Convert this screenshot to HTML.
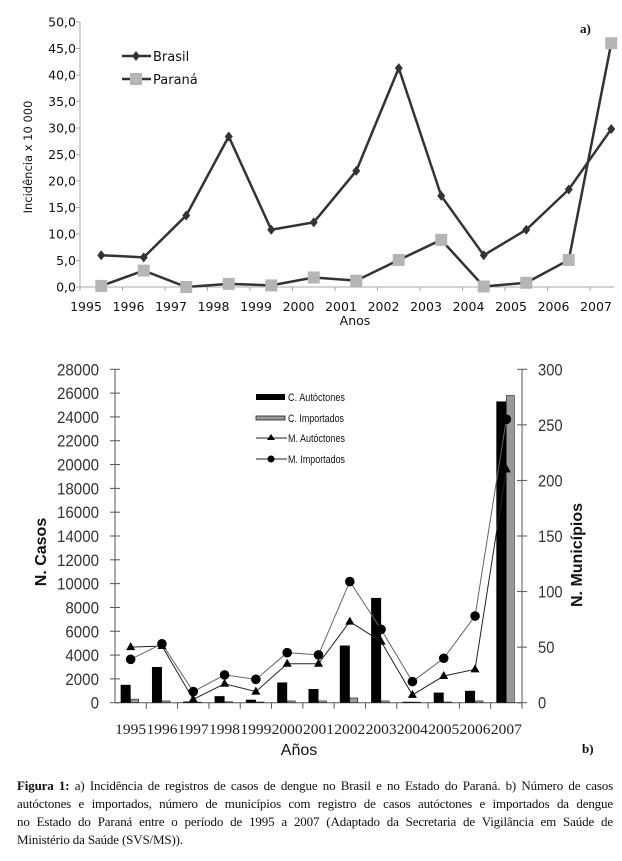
<!DOCTYPE html>
<html><head><meta charset="utf-8"><style>
body{margin:0;background:#fff;width:622px;height:861px;overflow:hidden;position:relative}
svg{position:absolute;left:0;top:0}
.cap{position:absolute;left:17px;width:596px;top:777px;font-family:"Liberation Serif",serif;font-size:13px;line-height:18px;color:#111;letter-spacing:-0.15px}
.cap div{text-align:justify;text-align-last:justify;white-space:nowrap}
.cap div.last{text-align-last:left}
</style></head><body>
<svg id="chart" width="622" height="861" xmlns="http://www.w3.org/2000/svg"></svg>
<div class="cap">
<div><b>Figura 1:</b> a) Incidência de registros de casos de dengue no Brasil e no Estado do Paraná. b) Número de casos</div>
<div>autóctones e importados, número de municípios com registro de casos autóctones e importados da dengue</div>
<div>no Estado do Paraná entre o período de 1995 a 2007 (Adaptado da Secretaria de Vigilância em Saúde de</div>
<div class="last">Ministério da Saúde (SVS/MS)).</div>
</div>
<script>
const years = ["1995","1996","1997","1998","1999","2000","2001","2002","2003","2004","2005","2006","2007"];
const brasil = [6.0,5.6,13.5,28.4,10.8,12.2,21.9,41.3,17.2,6.0,10.8,18.4,29.8];
const parana = [0.2,3.1,0.0,0.6,0.3,1.8,1.2,5.1,8.9,0.1,0.8,5.1,46.0];
const aTicks = ["0,0","5,0","10,0","15,0","20,0","25,0","30,0","35,0","40,0","45,0","50,0"];
const cAuto = [1500,3000,100,550,250,1700,1150,4800,8800,80,850,1000,25300];
const cImp = [300,150,50,80,60,150,150,400,150,50,60,150,25800];
const mAuto = [50,51,3,17,10,35,35,73,55,7,24,30,210];
const mImp = [39,53,10,25,21,45,43,109,66,19,40,78,255];
const leftTicks = [0,2000,4000,6000,8000,10000,12000,14000,16000,18000,20000,22000,24000,26000,28000];
const rightTicks = [0,50,100,150,200,250,300];

const svg=document.getElementById('chart');
const NS='http://www.w3.org/2000/svg';
function mk(tag,attrs,parent,name,txt){const e=document.createElementNS(NS,tag);for(const k in attrs)e.setAttribute(k,attrs[k]);


if(txt!==undefined)e.textContent=txt;(parent||svg).appendChild(e);return e;}

// ---- Chart a ----
const ga=mk('g',{},svg,'chart-a');
const aX0=80,aStep=42.5,aY0=287,aY1=22;
const ax=i=>aX0+aStep*(i+0.5);
const ay=v=>aY0-(aY0-aY1)*v/50;
const af='"DejaVu Sans","Liberation Sans",sans-serif';
mk('line',{x1:aX0,y1:aY1,x2:aX0,y2:aY0,stroke:'#aaa','stroke-width':1},ga,'y-axis-a');
mk('line',{x1:aX0,y1:aY0,x2:614,y2:aY0,stroke:'#aaa','stroke-width':1},ga,'x-axis-a');
aTicks.forEach((t,i)=>{const y=ay(i*5);
mk('line',{x1:aX0-4,y1:y,x2:aX0,y2:y,stroke:'#aaa'},ga,'y-tick-a');
mk('text',{x:76,y:y+4.5,'text-anchor':'end','font-family':af,'font-size':12.5,fill:'#111'},ga,'y-tick-label-a',t);});
years.forEach((yr,i)=>{const x=aX0+aStep*i;
mk('line',{x1:x,y1:aY0,x2:x,y2:aY0+4,stroke:'#aaa'},ga,'x-tick-a');
mk('text',{x:x+6,y:311,'text-anchor':'middle','font-family':af,'font-size':12.5,fill:'#111'},ga,'x-tick-label-a',yr);});
mk('text',{x:355,y:325,'text-anchor':'middle','font-family':af,'font-size':12.5,fill:'#111'},ga,'x-axis-title-a','Anos');
mk('text',{x:0,y:0,transform:'translate(32,157) rotate(-90)','text-anchor':'middle','font-family':af,'font-size':11.5,fill:'#111'},ga,'y-axis-title-a','Incidência x 10 000');
mk('text',{x:580,y:33,'font-family':'Liberation Serif, serif','font-size':13,'font-weight':'bold',fill:'#111'},ga,'panel-label-a','a)');
mk('polyline',{points:brasil.map((v,i)=>ax(i)+','+ay(v)).join(' '),fill:'none',stroke:'#333','stroke-width':2.5},ga,'line-brasil');
mk('polyline',{points:parana.map((v,i)=>ax(i)+','+ay(v)).join(' '),fill:'none',stroke:'#333','stroke-width':2.5},ga,'line-parana');
brasil.forEach((v,i)=>{const x=ax(i),y=ay(v);mk('polygon',{points:`${x},${y-5} ${x+4},${y} ${x},${y+5} ${x-4},${y}`,fill:'#333'},ga,'point-brasil');});
parana.forEach((v,i)=>{mk('rect',{x:ax(i)-6,y:ay(v)-6,width:12,height:12,fill:'#b5b5b5'},ga,'point-parana');});
mk('line',{x1:122,y1:56,x2:151,y2:56,stroke:'#333','stroke-width':2.5},ga,'legend-line-brasil');
mk('polygon',{points:'136,51 140,56 136,61 132,56',fill:'#333'},ga,'legend-marker-brasil');
mk('text',{x:153,y:61,'font-family':af,'font-size':13,fill:'#111'},ga,'legend-label-brasil','Brasil');
mk('line',{x1:122,y1:79,x2:151,y2:79,stroke:'#333','stroke-width':2.5},ga,'legend-line-parana');
mk('rect',{x:130,y:73,width:12,height:12,fill:'#b5b5b5'},ga,'legend-marker-parana');
mk('text',{x:153,y:84,'font-family':af,'font-size':13,fill:'#111'},ga,'legend-label-parana','Paraná');

// ---- Chart b ----
const gb=mk('g',{},svg,'chart-b');
const bX0=115,bX1=522,bY0=702.7,bY1=369.3,cw=(bX1-bX0)/13;
const bx=i=>bX0+cw*(i+0.5);
const byL=v=>bY0-(bY0-bY1)*v/28000;
const byR=v=>bY0-(bY0-bY1)*v/300;
const nf='"Liberation Sans",sans-serif';
mk('line',{x1:bX0,y1:bY1,x2:bX0,y2:bY0,stroke:'#555'},gb,'left-axis-b');
mk('line',{x1:bX1,y1:bY1,x2:bX1,y2:bY0,stroke:'#555'},gb,'right-axis-b');
mk('line',{x1:bX0,y1:bY0,x2:bX1,y2:bY0,stroke:'#555'},gb,'x-axis-b');
leftTicks.forEach(t=>{const y=byL(t);const s=String(t);
mk('line',{x1:bX0-5,y1:y,x2:bX0+5,y2:y,stroke:'#555'},gb,'left-tick');
mk('text',{x:99,y:y+6,'text-anchor':'end','font-family':nf,'font-size':17,fill:'#333',textLength:s.length*8.4,lengthAdjust:'spacingAndGlyphs'},gb,'left-tick-label',s);});
rightTicks.forEach(t=>{const y=byR(t);const s=String(t);
mk('line',{x1:bX1-5,y1:y,x2:bX1+5,y2:y,stroke:'#555'},gb,'right-tick');
mk('text',{x:538,y:y+6,'font-family':nf,'font-size':17,fill:'#333',textLength:s.length*8.2,lengthAdjust:'spacingAndGlyphs'},gb,'right-tick-label',s);});
years.forEach((yr,i)=>{const x=bX0+cw*(i+1);
mk('line',{x1:x,y1:bY0,x2:x,y2:bY0+6,stroke:'#555'},gb,'x-tick-b');
mk('text',{x:bx(i)-15.5,y:734,'font-family':'Liberation Serif, serif','font-size':15,fill:'#222',textLength:31,lengthAdjust:'spacingAndGlyphs'},gb,'x-tick-label-b',yr);});
mk('text',{x:299,y:755,'text-anchor':'middle','font-family':nf,'font-size':16,fill:'#111'},gb,'x-axis-title-b','Años');
mk('text',{x:0,y:0,transform:'translate(46,552) rotate(-90)','text-anchor':'middle','font-family':nf,'font-size':16,'font-weight':'bold',fill:'#111'},gb,'y-axis-title-left','N. Casos');
mk('text',{x:0,y:0,transform:'translate(582,555) rotate(-90)','text-anchor':'middle','font-family':nf,'font-size':16,'font-weight':'bold',fill:'#111'},gb,'y-axis-title-right','N. Municípios');
mk('text',{x:582,y:753,'font-family':'Liberation Serif, serif','font-size':13,'font-weight':'bold',fill:'#111'},gb,'panel-label-b','b)');
cAuto.forEach((v,i)=>{mk('rect',{x:bx(i)-10,y:byL(v),width:10,height:bY0-byL(v),fill:'#000'},gb,'bar-c-autoctones');});
cImp.forEach((v,i)=>{mk('rect',{x:bx(i),y:byL(v),width:8,height:bY0-byL(v),fill:'#999',stroke:'#222','stroke-width':0.6},gb,'bar-c-importados');});
mk('polyline',{points:mAuto.map((v,i)=>bx(i)+','+byR(v)).join(' '),fill:'none',stroke:'#222','stroke-width':1},gb,'line-m-autoctones');
mk('polyline',{points:mImp.map((v,i)=>bx(i)+','+byR(v)).join(' '),fill:'none',stroke:'#666','stroke-width':1},gb,'line-m-importados');
mAuto.forEach((v,i)=>{const x=bx(i),y=byR(v);mk('polygon',{points:`${x},${y-5} ${x+4.5},${y+3} ${x-4.5},${y+3}`,fill:'#000'},gb,'point-m-autoctones');});
mImp.forEach((v,i)=>{mk('circle',{cx:bx(i),cy:byR(v),r:4.8,fill:'#000'},gb,'point-m-importados');});
mk('rect',{x:256,y:394,width:29,height:6,fill:'#000'},gb,'legend-swatch-c-autoctones');
mk('text',{x:288,y:401,'font-family':nf,'font-size':11,fill:'#111',textLength:57,lengthAdjust:'spacingAndGlyphs'},gb,'legend-label-c-autoctones','C. Autóctones');
mk('rect',{x:256,y:416,width:29,height:4,fill:'#999',stroke:'#222','stroke-width':0.8},gb,'legend-swatch-c-importados');
mk('text',{x:288,y:422,'font-family':nf,'font-size':11,fill:'#111',textLength:56,lengthAdjust:'spacingAndGlyphs'},gb,'legend-label-c-importados','C. Importados');
mk('line',{x1:256,y1:438,x2:287,y2:438,stroke:'#222'},gb,'legend-line-m-autoctones');
mk('polygon',{points:'271,434 275,440 267,440',fill:'#000'},gb,'legend-marker-m-autoctones');
mk('text',{x:288,y:442,'font-family':nf,'font-size':11,fill:'#111',textLength:57,lengthAdjust:'spacingAndGlyphs'},gb,'legend-label-m-autoctones','M. Autóctones');
mk('line',{x1:256,y1:459,x2:287,y2:459,stroke:'#222'},gb,'legend-line-m-importados');
mk('circle',{cx:271,cy:459,r:3.5,fill:'#000'},gb,'legend-marker-m-importados');
mk('text',{x:288,y:463,'font-family':nf,'font-size':11,fill:'#111',textLength:57,lengthAdjust:'spacingAndGlyphs'},gb,'legend-label-m-importados','M. Importados');
</script>
</body></html>
